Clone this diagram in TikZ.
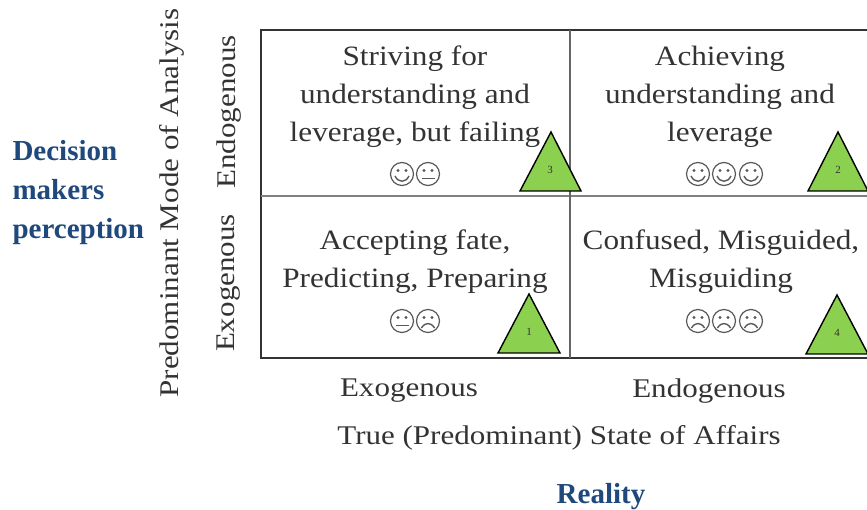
\documentclass[tikz,border=0pt]{standalone}
\usepackage{fontspec}
\setmainfont{Liberation Serif}
\newfontfamily\cellfont[FakeStretch=1.115]{Liberation Serif}
\newfontfamily\axisfont[FakeStretch=1.15]{Liberation Serif}
\definecolor{darkblue}{HTML}{1F497D}
\definecolor{trigreen}{HTML}{8CD050}
\definecolor{inkgray}{HTML}{333333}
\tikzset{
	celltext/.style={align=center,text=inkgray,font=\cellfont\fontsize{28}{38}\selectfont},
	axistext/.style={text=inkgray,font=\axisfont\fontsize{27}{30}\selectfont},
	bluetext/.style={text=darkblue,font=\fontsize{29}{39}\selectfont\bfseries,align=left},
	trishape/.style={draw=black,line width=1.4pt,fill=trigreen},
	trinum/.style={font=\fontsize{11}{11}\selectfont,text=black!80},
	grid/.style={draw=inkgray,line width=1.3pt},
	pics/faceround/.style={code={\draw[gray!70!black,line width=1.2pt] (0,0) circle (11.5);
		\fill[gray!70!black] (-4,-3.5) circle (1.7) (4,-3.5) circle (1.7);}},
	pics/facesmile/.style={code={\pic{faceround};
		\draw[gray!70!black,line width=1.4pt] (-7,2) .. controls (-3.5,9) and (3.5,9) .. (7,2);}},
	pics/faceflat/.style={code={\pic{faceround};
		\draw[gray!70!black,line width=1.4pt] (-6.5,4.5) -- (6.5,4.5);}},
	pics/facesad/.style={code={\pic{faceround};
		\draw[gray!70!black,line width=1.4pt] (-6.5,7) .. controls (-3,1) and (3,1) .. (6.5,7);}},
}
\begin{document}
\begin{tikzpicture}[x=1pt,y=-1pt]
	\useasboundingbox (0,0) rectangle (867,510);

	% Grid
	\draw[grid] (867,30) -- (261,30) -- (261,358) -- (867,358);
	\draw[grid,draw=gray] (261,196) -- (867,196);
	\draw[grid,draw=gray!80!black] (570,30) -- (570,358);

	% Cell texts
	\node[celltext] (strive) at (415,97) {Striving for\\understanding and\\leverage, but failing};
	\node[celltext] (achieve) at (720,97) {Achieving\\understanding and\\leverage};
	\node[celltext] (accept) at (415,262) {Accepting fate,\\Predicting, Preparing};
	\node[celltext] (confuse) at (721,262) {Confused, Misguided,\\Misguiding};

	% Faces
	\pic at (402,174) {facesmile};
	\pic at (428,174) {faceflat};
	\pic at (698,174) {facesmile};
	\pic at (724,174) {facesmile};
	\pic at (751,174) {facesmile};
	\pic at (402,321) {faceflat};
	\pic at (428,321) {facesad};
	\pic at (698,321) {facesad};
	\pic at (724,321) {facesad};
	\pic at (751,321) {facesad};

	% Triangles
	\draw[trishape] (520,191) -- (551,132) -- (581,191) -- cycle;
	\node[trinum] (num3) at (550,170) {3};
	\draw[trishape] (808,191) -- (838,132) -- (868,191) -- cycle;
	\node[trinum] (num2) at (838,170) {2};
	\draw[trishape] (498,353) -- (529,294) -- (560,353) -- cycle;
	\node[trinum] (num1) at (529,332) {1};
	\draw[trishape] (806,354) -- (837,295) -- (868,354) -- cycle;
	\node[trinum] (num4) at (837,333) {4};

	% Axis labels
	\node[axistext,rotate=90] (yendo) at (229,112) {Endogenous};
	\node[axistext,rotate=90] (yexo) at (229,283) {Exogenous};
	\node[axistext,rotate=90] (ytitle) at (172,203) {Predominant Mode of Analysis};
	\node[axistext] (xexo) at (409,391) {Exogenous};
	\node[axistext] (xendo) at (709,391) {Endogenous};
	\node[axistext] (xtitle) at (559,438) {True (Predominant) State of Affairs};

	% Blue labels
	\node[bluetext,anchor=west] (percept) at (9,193) {Decision\\makers\\perception};
	\node[bluetext] (reality) at (601,497) {Reality};

\end{tikzpicture}
\end{document}
